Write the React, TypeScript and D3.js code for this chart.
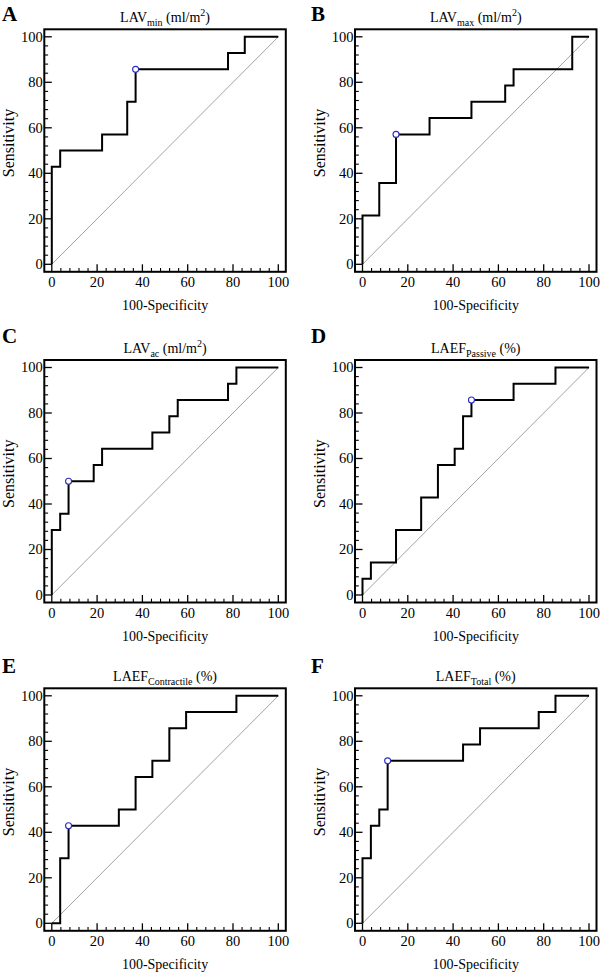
import React from "react";
import * as d3 from "d3";

// ---- data (percent) ----
const panelLetters = ["A", "B", "C", "D", "E", "F"];
const titleMain = ["LAV", "LAV", "LAV", "LAEF", "LAEF", "LAEF"];
const titleSub = ["min", "max", "ac", "Passive", "Contractile", "Total"];
const titleUnit = ["ml/m2", "ml/m2", "ml/m2", "%", "%", "%"];

// ROC corner points (100-Specificity, Sensitivity), drawn as step-before
const rocFprA = [0, 3.7, 22.2, 33.3, 37.0, 77.8, 85.2, 100];
const rocTprA = [0, 42.9, 50, 57.1, 71.4, 85.7, 92.9, 100];
const rocFprB = [0, 7.4, 14.8, 29.6, 48.1, 63.0, 66.7, 92.6, 100];
const rocTprB = [0, 21.4, 35.7, 57.1, 64.3, 71.4, 78.6, 85.7, 100];
const rocFprC = [0, 3.7, 7.4, 18.5, 22.2, 44.4, 51.9, 55.6, 77.8, 81.5, 100];
const rocTprC = [0, 28.6, 35.7, 50, 57.1, 64.3, 71.4, 78.6, 85.7, 92.9, 100];
const rocFprD = [0, 3.7, 14.8, 25.9, 33.3, 40.7, 44.4, 48.1, 66.7, 85.2, 100];
const rocTprD = [0, 7.1, 14.3, 28.6, 42.9, 57.1, 64.3, 78.6, 85.7, 92.9, 100];
const rocFprE = [0, 3.7, 7.4, 29.6, 37.0, 44.4, 51.9, 59.3, 81.5, 100];
const rocTprE = [0, 0, 28.6, 42.9, 50, 64.3, 71.4, 85.7, 92.9, 100];
const rocFprF = [0, 3.7, 7.4, 11.1, 44.4, 51.9, 77.8, 85.2, 100];
const rocTprF = [0, 28.6, 42.9, 50, 71.4, 78.6, 85.7, 92.9, 100];

// optimal criterion points
const cutFpr = [37.0, 14.8, 7.4, 48.1, 7.4, 11.1];
const cutTpr = [85.7, 57.1, 50, 85.7, 42.9, 71.4];

const majorTicks = [0, 20, 40, 60, 80, 100];
const minorTicks = d3.range(0, 101, 4).filter((v) => v % 20 !== 0);

const rocFpr = [rocFprA, rocFprB, rocFprC, rocFprD, rocFprE, rocFprF];
const rocTpr = [rocTprA, rocTprB, rocTprC, rocTprD, rocTprE, rocTprF];

// ---- layout ----
const FONT = "'Liberation Serif', 'Times New Roman', Times, serif";
const colLeft = [44.3, 355];
const rowTop = [29.3, 360, 688.3];
const letterBase = [21, 343, 673];
const letterX = [2, 311];
const FW = 241.5;
const FH = 242.5;
const PAD = 7.5;

function Panel({ i }: { i: number }) {
  const col = i % 2;
  const row = Math.floor(i / 2);
  const L = colLeft[col];
  const T = rowTop[row];
  const R = L + FW;
  const B = T + FH;
  const x = d3.scaleLinear().domain([0, 100]).range([L + PAD, R - PAD]);
  const y = d3.scaleLinear().domain([0, 100]).range([B - PAD, T + PAD]);
  const pts: [number, number][] = rocFpr[i].map((f, k) => [f, rocTpr[i][k]]);
  const line = d3
    .line<[number, number]>()
    .x((d) => x(d[0]))
    .y((d) => y(d[1]))
    .curve(d3.curveStepBefore);
  const diag = d3
    .line<number>()
    .x((d) => x(d))
    .y((d) => y(d));
  const cx = (L + R) / 2;
  const unit = titleUnit[i];
  return (
    <g fontFamily={FONT} fill="#000">
      <text x={letterX[col]} y={letterBase[row]} fontSize={21} fontWeight="bold">
        {panelLetters[i]}
      </text>
      <text x={cx} y={T - 7.5} fontSize={14} textAnchor="middle">
        <tspan>{titleMain[i]}</tspan>
        <tspan fontSize={10} dy={4}>{titleSub[i]}</tspan>
        {unit === "ml/m2" ? (
          <>
            <tspan dy={-4}>{" (ml/m"}</tspan>
            <tspan fontSize={10} dy={-6}>2</tspan>
            <tspan dy={6}>)</tspan>
          </>
        ) : (
          <tspan dy={-4}>{" (%)"}</tspan>
        )}
      </text>
      {/* diagonal */}
      <path d={diag([0, 100]) || ""} stroke="#8a8a8a" strokeWidth={0.8} fill="none" />
      {/* ticks */}
      {majorTicks.map((t) => (
        <g key={"M" + t}>
          <line x1={x(t)} x2={x(t)} y1={B} y2={B - PAD} stroke="#000" strokeWidth={1.3} />
          <line x1={L} x2={L + PAD} y1={y(t)} y2={y(t)} stroke="#000" strokeWidth={1.3} />
          <text x={x(t)} y={B + 15} fontSize={14.5} textAnchor="middle">
            {t}
          </text>
          <text x={L - 1.5} y={y(t)} dy="0.34em" fontSize={14.5} textAnchor="end">
            {t}
          </text>
        </g>
      ))}
      {minorTicks.map((t) => (
        <g key={"m" + t}>
          <line x1={x(t)} x2={x(t)} y1={B} y2={B - 3.8} stroke="#000" strokeWidth={1.1} />
          <line x1={L} x2={L + 3.8} y1={y(t)} y2={y(t)} stroke="#000" strokeWidth={1.1} />
        </g>
      ))}
      {/* ROC curve */}
      <path d={line(pts) || ""} stroke="#000" strokeWidth={2} fill="none" strokeLinejoin="miter" />
      <circle
        cx={x(cutFpr[i])}
        cy={y(cutTpr[i])}
        r={3}
        fill="#fff"
        stroke="#2b2bc0"
        strokeWidth={1.1}
      />
      {/* frame */}
      <rect x={L} y={T} width={FW} height={FH} fill="none" stroke="#000" strokeWidth={2} />
      {/* axis labels */}
      <text x={cx} y={B + 38} fontSize={14} textAnchor="middle">
        100-Specificity
      </text>
      <text
        transform={`translate(${L - 30},${(T + B) / 2 - 7.5}) rotate(-90)`}
        fontSize={16}
        textAnchor="middle"
      >
        Sensitivity
      </text>
    </g>
  );
}

export default function App() {
  return (
    <svg
      width={600}
      height={972}
      viewBox="0 0 600 972"
      style={{ position: "absolute", left: 0, top: 0, background: "#fff" }}
    >
      <rect width={600} height={972} fill="#fff" />
      {panelLetters.map((_, i) => (
        <Panel key={i} i={i} />
      ))}
    </svg>
  );
}
